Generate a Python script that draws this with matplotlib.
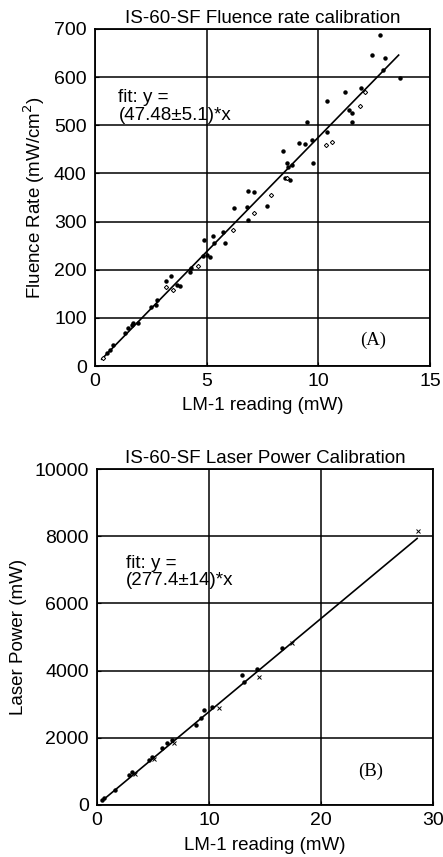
import matplotlib.pyplot as plt
import numpy as np

plt.rcParams['font.family'] = ['Liberation Sans', 'DejaVu Sans']

# panel A: fluence rate vs LM-1 reading
a_dot_x = [12.76, 12.42, 12.99, 12.88, 13.66, 10.4, 11.19, 11.9, 11.39, 11.49, 11.49,
           9.51, 9.4, 9.15, 9.7, 10.37, 9.75, 8.4, 8.58, 8.66, 8.81, 8.51, 8.73,
           6.87, 7.13, 6.22, 6.79, 6.87, 7.69, 5.75, 5.3, 4.88, 5.31, 5.82, 5.0,
           4.82, 5.15, 4.28, 4.25, 3.39, 3.18, 3.69, 3.81, 2.76, 2.49, 2.73,
           1.94, 1.72, 1.64, 1.49, 1.34, 0.82, 0.67, 0.55]
a_dot_y = [687, 646, 639, 614, 599, 550, 570, 577, 532, 525, 506,
           506, 462, 463, 470, 486, 421, 446, 421, 414, 418, 390, 387,
           364, 361, 328, 331, 304, 333, 279, 271, 261, 256, 256, 231,
           229, 227, 203, 196, 186, 177, 168, 166, 137, 123, 127,
           89, 89, 85, 78, 68, 44, 33, 28]
a_dia_x = [10.33, 10.6, 11.87, 12.09, 7.87, 7.1, 6.19, 4.63, 3.51, 3.18, 0.34, 8.6]
a_dia_y = [459, 466, 539, 569, 356, 317, 283, 208, 158, 165, 16, 390]
a_slope = 47.48
a_fit_x = [0.3, 13.6]

# panel B: laser power vs LM-1 reading
b_dot_x = [16.5, 14.33, 12.99, 13.13, 10.3, 9.55, 9.25, 8.81, 6.72, 6.27, 5.82,
           4.93, 4.63, 3.13, 2.84, 1.64, 0.6, 0.45]
b_dot_y = [4687, 4041, 3873, 3674, 2930, 2830, 2582, 2383, 1937, 1837, 1688,
           1440, 1341, 993, 894, 447, 199, 149]
b_x_x = [28.66, 17.46, 14.48, 10.9, 6.9, 5.1, 3.4]
b_x_y = [8143, 4836, 3823, 2880, 1850, 1380, 930]
b_slope = 277.4
b_fit_x = [0.5, 28.6]

fig = plt.figure(figsize=(4.43, 8.57), dpi=100)
ax1 = fig.add_axes([0.2144, 0.5729, 0.756, 0.3933])
ax2 = fig.add_axes([0.219, 0.0607, 0.758, 0.392])

FS = 13.5


def style(ax):
    ax.grid(True, color='black', linewidth=1.1)
    ax.set_axisbelow(True)
    for s in ax.spines.values():
        s.set_linewidth(1.3)
    ax.tick_params(direction='in', length=3, labelsize=14)
    ax.tick_params(axis='x', pad=5)
    ax.tick_params(axis='y', pad=6)


ax1.plot(a_dot_x, a_dot_y, 'o', ms=2.2, color='black', zorder=3)
ax1.plot(a_dia_x, a_dia_y, 'D', ms=2.2, mfc='white', mec='black', mew=0.7, zorder=3)
fx = np.array(a_fit_x)
ax1.plot(fx, a_slope * fx, color='black', lw=1.2, zorder=2)
ax1.set_xlim(0, 15)
ax1.set_ylim(0, 700)
ax1.set_xticks([0, 5, 10, 15])
ax1.set_yticks(range(0, 701, 100))
style(ax1)
ax1.set_title('IS-60-SF Fluence rate calibration', fontsize=FS, pad=4)
ax1.set_xlabel('LM-1 reading (mW)', fontsize=FS, labelpad=5)
ax1.set_ylabel('Fluence Rate (mW/cm$^2$)', fontsize=FS, labelpad=5)
ax1.text(1.05, 575, 'fit: y =\n(47.48±5.1)*x', fontsize=FS, va='top', linespacing=1.05)
ax1.text(12.45, 54, '(A)', fontsize=FS, family='Liberation Serif', ha='center', va='center')

ax2.plot(b_dot_x, b_dot_y, 'o', ms=2.2, color='black', zorder=3)
ax2.plot(b_x_x, b_x_y, 'x', ms=3, color='black', mew=0.7, zorder=3)
fx = np.array(b_fit_x)
ax2.plot(fx, b_slope * fx, color='black', lw=1.2, zorder=2)
ax2.set_xlim(0, 30)
ax2.set_ylim(0, 10000)
ax2.set_xticks([0, 10, 20, 30])
ax2.set_yticks(range(0, 10001, 2000))
style(ax2)
ax2.set_title('IS-60-SF Laser Power Calibration', fontsize=FS, pad=4)
ax2.set_xlabel('LM-1 reading (mW)', fontsize=FS, labelpad=6)
ax2.set_ylabel('Laser Power (mW)', fontsize=FS, labelpad=5)
ax2.text(2.6, 7450, 'fit: y =\n(277.4±14)*x', fontsize=FS, va='top', linespacing=1.05)
ax2.text(24.4, 1000, '(B)', fontsize=FS, family='Liberation Serif', ha='center', va='center')

fig.savefig('out.png', dpi=100)
